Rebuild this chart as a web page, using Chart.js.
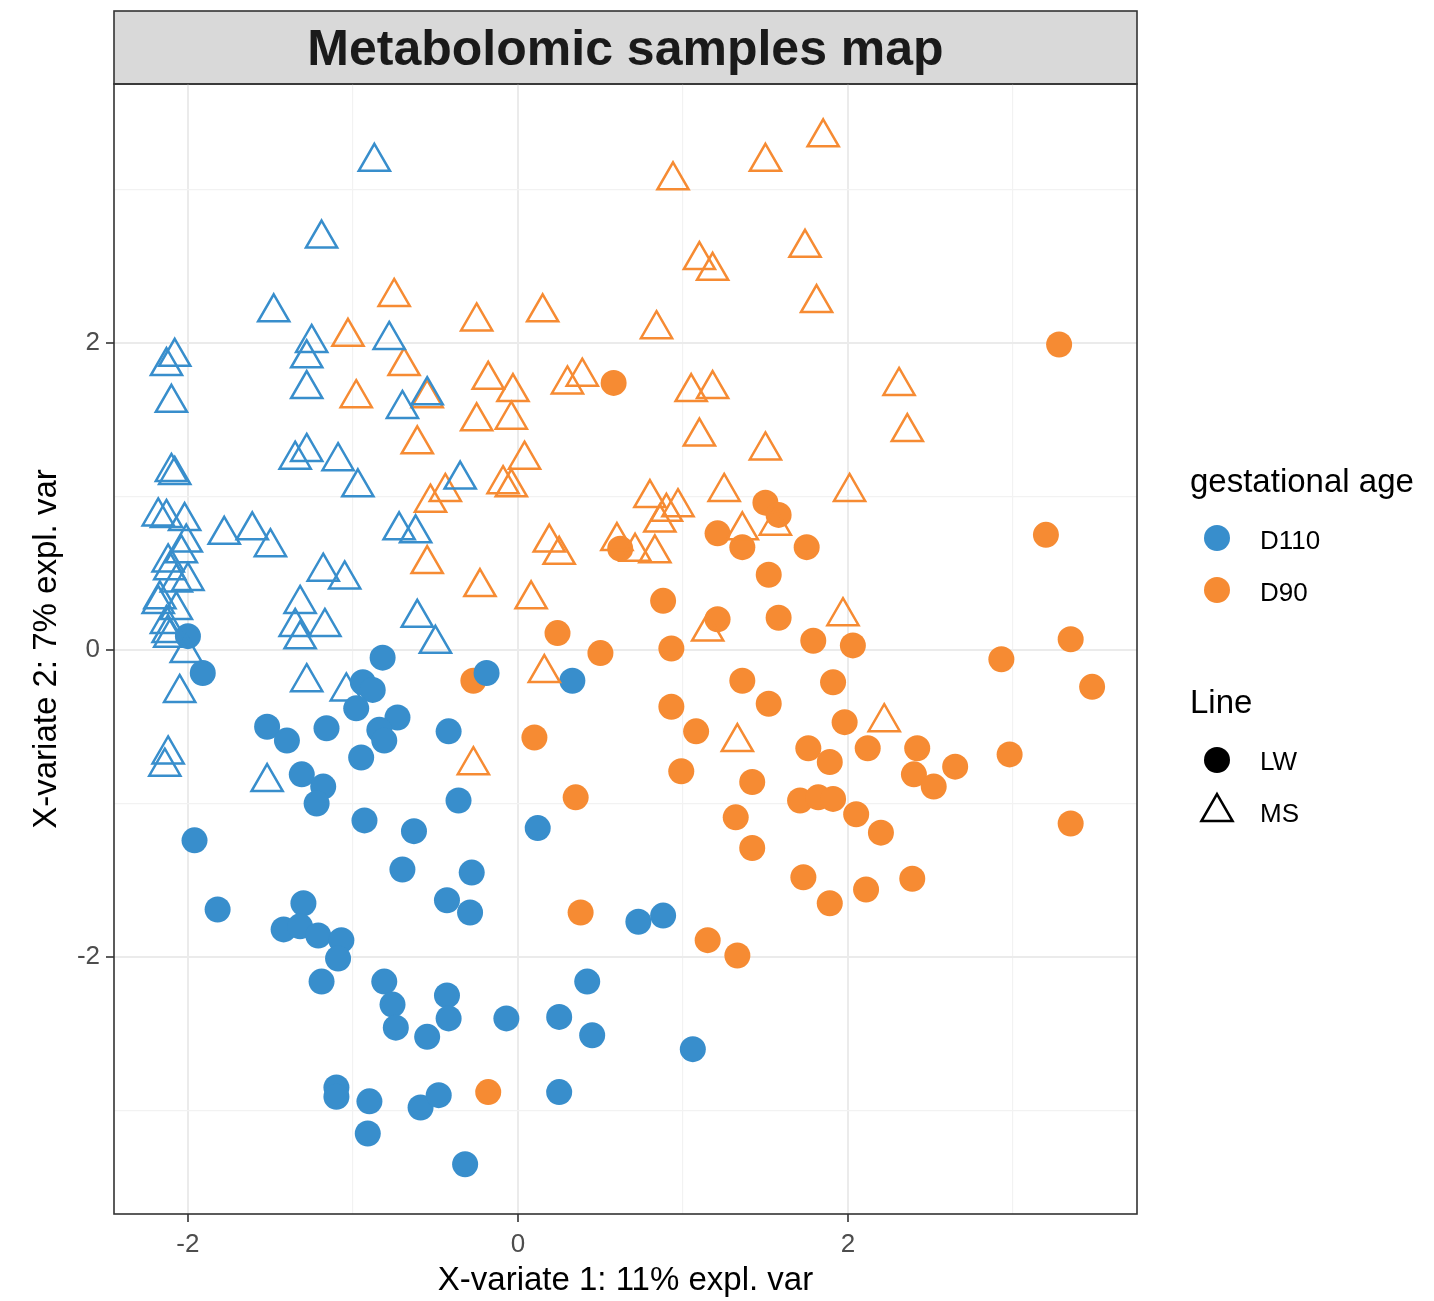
<!DOCTYPE html>
<html>
<head>
<meta charset="utf-8">
<title>Metabolomic samples map</title>
<script src="https://cdn.jsdelivr.net/npm/chart.js@4.4.1/dist/chart.umd.min.js"></script>
<style>
  html, body { margin: 0; padding: 0; background: #fff; }
  #wrap { width: 1434px; height: 1301px; }
</style>
</head>
<body>
<div id="wrap"><canvas id="samplesChart" width="1434" height="1301"></canvas></div>
<script>
// sample scores, [X-variate 1, X-variate 2]
const d110MS = [
  [-0.87, 3.18], [-1.19, 2.68], [-1.48, 2.20], [-1.25, 2.00], [-1.28, 1.90], [-1.28, 1.70],
  [-2.08, 1.91], [-2.13, 1.85], [-2.10, 1.61], [-0.78, 2.02], [-0.70, 1.57], [-0.55, 1.66],
  [-1.28, 1.29], [-1.35, 1.24], [-1.09, 1.23], [-2.10, 1.16], [-2.08, 1.14], [-0.97, 1.06],
  [-0.35, 1.11], [-2.18, 0.87], [-2.13, 0.86], [-2.02, 0.84], [-1.78, 0.75], [-1.61, 0.78],
  [-1.50, 0.67], [-0.72, 0.78], [-0.62, 0.76], [-2.01, 0.70], [-2.04, 0.63], [-2.12, 0.57],
  [-2.11, 0.52], [-2.00, 0.45], [-2.07, 0.44], [-2.17, 0.33], [-2.18, 0.30], [-2.07, 0.26],
  [-2.13, 0.17], [-2.12, 0.11], [-2.11, 0.08], [-2.01, -0.02], [-1.18, 0.51], [-1.05, 0.46],
  [-1.32, 0.30], [-1.35, 0.15], [-1.17, 0.15], [-1.32, 0.07], [-0.61, 0.21], [-0.50, 0.04],
  [-1.28, -0.21], [-1.04, -0.27], [-2.05, -0.28], [-2.12, -0.68], [-2.14, -0.76], [-1.52, -0.86]
];
const d90MS = [
  [1.85, 3.34], [1.50, 3.18], [0.94, 3.06], [1.10, 2.54], [1.18, 2.47], [1.74, 2.62],
  [1.81, 2.26], [0.15, 2.20], [0.84, 2.09], [-0.25, 2.14], [-0.75, 2.30], [-1.03, 2.04],
  [-0.69, 1.85], [-0.98, 1.64], [-0.61, 1.34], [-0.55, 1.64], [-0.18, 1.76], [-0.03, 1.68],
  [-0.04, 1.50], [-0.25, 1.49], [0.30, 1.73], [0.39, 1.78], [1.05, 1.68], [1.18, 1.70],
  [1.10, 1.39], [1.50, 1.30], [0.04, 1.24], [-0.09, 1.08], [-0.04, 1.06], [-0.53, 0.96],
  [-0.44, 1.03], [-0.55, 0.56], [-0.23, 0.41], [-0.27, -0.75], [0.80, 0.99], [0.97, 0.93],
  [0.90, 0.90], [0.86, 0.83], [0.60, 0.71], [0.71, 0.64], [0.83, 0.63], [1.25, 1.03],
  [1.36, 0.78], [1.56, 0.81], [2.01, 1.03], [0.19, 0.70], [0.25, 0.62], [0.08, 0.33],
  [0.16, -0.15], [1.15, 0.12], [1.97, 0.22], [1.33, -0.60], [2.22, -0.47], [2.31, 1.72],
  [2.36, 1.42]
];
const d110LW = [
  [-2.00, 0.09], [-1.91, -0.15], [-0.82, -0.05], [-0.94, -0.21], [-0.88, -0.26], [-0.19, -0.15],
  [-0.98, -0.38], [-0.73, -0.44], [-1.52, -0.50], [-1.40, -0.59], [-1.16, -0.51], [-0.84, -0.52],
  [-0.81, -0.59], [-0.42, -0.53], [-0.95, -0.70], [-1.31, -0.81], [-1.18, -0.89], [-1.22, -1.00],
  [-0.36, -0.98], [-0.93, -1.11], [-0.63, -1.18], [-1.96, -1.24], [-1.82, -1.69], [-1.30, -1.65],
  [-1.42, -1.82], [-1.32, -1.80], [-1.21, -1.86], [-1.07, -1.89], [-1.09, -2.01], [-1.19, -2.16],
  [-0.70, -1.43], [-0.28, -1.45], [-0.43, -1.63], [-0.29, -1.71], [-0.81, -2.16], [-0.76, -2.31],
  [-0.74, -2.46], [-0.55, -2.52], [-0.43, -2.25], [-0.42, -2.40], [-1.10, -2.85], [-1.10, -2.91],
  [-0.90, -2.94], [-0.91, -3.15], [-0.59, -2.98], [-0.48, -2.90], [-0.32, -3.35], [0.12, -1.16],
  [0.73, -1.77], [0.88, -1.73], [0.42, -2.16], [-0.07, -2.40], [0.25, -2.39], [0.45, -2.51],
  [1.06, -2.60], [0.25, -2.88], [0.33, -0.20]
];
const d90LW = [
  [0.58, 1.74], [0.62, 0.66], [1.50, 0.96], [1.58, 0.88], [1.21, 0.20], [1.21, 0.76],
  [1.36, 0.67], [1.75, 0.67], [1.52, 0.49], [0.88, 0.32], [1.58, 0.21], [1.79, 0.06],
  [2.03, 0.03], [0.93, 0.01], [1.36, -0.20], [1.91, -0.21], [1.52, -0.35], [0.93, -0.37],
  [1.98, -0.47], [1.08, -0.53], [1.76, -0.64], [1.89, -0.73], [0.99, -0.79], [1.42, -0.86],
  [1.71, -0.98], [1.82, -0.96], [1.91, -0.97], [2.05, -1.07], [1.32, -1.09], [1.42, -1.29],
  [0.24, 0.11], [0.50, -0.02], [0.10, -0.57], [0.35, -0.96], [-0.27, -0.20], [3.20, 0.75],
  [3.35, 0.07], [2.93, -0.06], [3.48, -0.24], [2.12, -0.64], [2.42, -0.64], [2.65, -0.76],
  [2.40, -0.81], [2.52, -0.89], [2.98, -0.68], [2.20, -1.19], [3.35, -1.13], [2.39, -1.49],
  [2.11, -1.56], [1.73, -1.48], [1.89, -1.65], [0.38, -1.71], [1.15, -1.89], [1.33, -1.99],
  [-0.18, -2.88], [3.28, 1.99]
];

const xGridValues = [-2, -1, 0, 1, 2, 3];
const yGridValues = [-3, -2, -1, 0, 1, 2, 3];
const xTickLabels = [-2, 0, 2];
const yTickLabels = [-2, 0, 2];

const ageLabels = ['D110', 'D90'];
const lineLabels = ['LW', 'MS'];

const BLUE = '#388ECC';
const ORANGE = '#F68B33';
const FONT = '"Liberation Sans", Arial, sans-serif';

const toPoints = (pairs) => pairs.map(([x, y]) => ({ x, y }));

// facet strip behind the title, panel border and the two legends
const panelDecor = {
    id: 'panelDecor',
    beforeDraw: (chart) => {
        const { ctx, chartArea } = chart;
        const stripTop = 11;
        ctx.save();
        ctx.fillStyle = '#D9D9D9';
        ctx.fillRect(chartArea.left, stripTop, chartArea.right - chartArea.left, chartArea.top - stripTop);
        ctx.strokeStyle = '#333333';
        ctx.lineWidth = 1.6;
        ctx.strokeRect(chartArea.left, stripTop, chartArea.right - chartArea.left, chartArea.top - stripTop);
        ctx.restore();
    },
    afterDraw: (chart) => {
        const { ctx, chartArea } = chart;
        ctx.save();
        ctx.strokeStyle = '#333333';
        ctx.lineWidth = 1.6;
        ctx.strokeRect(chartArea.left, chartArea.top, chartArea.right - chartArea.left, chartArea.bottom - chartArea.top);

        const keyX = 1217;
        const textX = 1260;
        ctx.fillStyle = '#000';
        ctx.textAlign = 'left';
        ctx.textBaseline = 'alphabetic';

        ctx.font = `33px ${FONT}`;
        ctx.fillText('gestational age', 1190, 492);
        ctx.fillText('Line', 1190, 713);

        ctx.font = `26px ${FONT}`;
        const ageColors = [BLUE, ORANGE];
        const ageRows = [538, 590];
        ageLabels.forEach((label, i) => {
            ctx.fillStyle = ageColors[i];
            ctx.beginPath();
            ctx.arc(keyX, ageRows[i], 13, 0, Math.PI * 2);
            ctx.fill();
            ctx.fillStyle = '#000';
            ctx.fillText(label, textX, ageRows[i] + 11);
        });

        // LW: filled circle
        ctx.fillStyle = '#000';
        ctx.beginPath();
        ctx.arc(keyX, 760, 13, 0, Math.PI * 2);
        ctx.fill();
        ctx.fillText(lineLabels[0], textX, 770);

        // MS: open triangle
        const r = 18;
        const cy = 812;
        ctx.strokeStyle = '#000';
        ctx.lineWidth = 2.5;
        ctx.beginPath();
        ctx.moveTo(keyX, cy - r);
        ctx.lineTo(keyX + r * Math.sin(2 * Math.PI / 3), cy + r / 2);
        ctx.lineTo(keyX - r * Math.sin(2 * Math.PI / 3), cy + r / 2);
        ctx.closePath();
        ctx.stroke();
        ctx.fillText(lineLabels[1], textX, 822);
        ctx.restore();
    }
};

const gridOptions = (labelled) => ({
    color: (c) => labelled.includes(c.tick.value) ? '#EBEBEB' : '#F2F2F2',
    lineWidth: (c) => labelled.includes(c.tick.value) ? 2 : 1.2,
    drawTicks: true,
    tickLength: 8,
    tickWidth: 1.6,
    tickColor: (c) => labelled.includes(c.tick.value) ? '#333333' : 'rgba(0,0,0,0)'
});

const buildChart = () => {
    const ctx = document.getElementById('samplesChart').getContext('2d');
    new Chart(ctx, {
        type: 'scatter',
        data: {
            datasets: [
                {
                    label: 'D110 MS',
                    data: toPoints(d110MS),
                    pointStyle: 'triangle',
                    pointRadius: 18,
                    borderColor: BLUE,
                    backgroundColor: 'rgba(0,0,0,0)',
                    borderWidth: 2.5
                },
                {
                    label: 'D90 MS',
                    data: toPoints(d90MS),
                    pointStyle: 'triangle',
                    pointRadius: 18,
                    borderColor: ORANGE,
                    backgroundColor: 'rgba(0,0,0,0)',
                    borderWidth: 2.5
                },
                {
                    label: 'D110 LW',
                    data: toPoints(d110LW),
                    pointStyle: 'circle',
                    pointRadius: 13,
                    borderWidth: 0,
                    backgroundColor: BLUE
                },
                {
                    label: 'D90 LW',
                    data: toPoints(d90LW),
                    pointStyle: 'circle',
                    pointRadius: 13,
                    borderWidth: 0,
                    backgroundColor: ORANGE
                }
            ]
        },
        options: {
            responsive: false,
            animation: false,
            events: [],
            layout: { padding: { top: 11, right: 297, bottom: 0, left: 0 } },
            plugins: {
                legend: { display: false },
                tooltip: { enabled: false },
                title: {
                    display: true,
                    text: 'Metabolomic samples map',
                    fullSize: false,
                    color: '#1A1A1A',
                    font: { family: FONT, size: 50, weight: 'bold', lineHeight: 1.2 },
                    padding: { top: 10, bottom: 3 }
                }
            },
            scales: {
                x: {
                    type: 'linear',
                    min: -2.448,
                    max: 3.752,
                    afterBuildTicks: (scale) => { scale.ticks = xGridValues.map(v => ({ value: v })); },
                    afterFit: (scale) => { scale.height = 87; },
                    grid: gridOptions(xTickLabels),
                    border: { display: false },
                    ticks: {
                        autoSkip: false,
                        maxRotation: 0,
                        padding: 7,
                        color: '#4D4D4D',
                        font: { family: FONT, size: 26 },
                        callback: (value) => xTickLabels.includes(value) ? String(value) : ''
                    },
                    title: {
                        display: true,
                        text: 'X-variate 1: 11% expl. var',
                        color: '#000',
                        font: { family: FONT, size: 33, lineHeight: 1 },
                        padding: { top: 0, bottom: 3.5 }
                    }
                },
                y: {
                    type: 'linear',
                    min: -3.674,
                    max: 3.687,
                    afterBuildTicks: (scale) => { scale.ticks = yGridValues.map(v => ({ value: v })); },
                    afterFit: (scale) => { scale.width = 114; },
                    grid: gridOptions(yTickLabels),
                    border: { display: false },
                    ticks: {
                        autoSkip: false,
                        padding: 6,
                        color: '#4D4D4D',
                        font: { family: FONT, size: 26 },
                        callback: (value) => yTickLabels.includes(value) ? String(value) : ''
                    },
                    title: {
                        display: true,
                        text: 'X-variate 2: 7% expl. var',
                        color: '#000',
                        font: { family: FONT, size: 33, lineHeight: 1 },
                        padding: { top: 30, bottom: 0 }
                    }
                }
            }
        },
        plugins: [panelDecor]
    });
};

window.onload = () => {
    buildChart();
};
</script>
</body>
</html>
